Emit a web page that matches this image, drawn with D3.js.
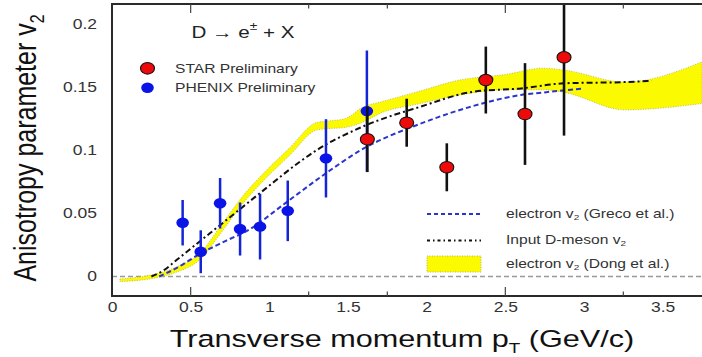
<!DOCTYPE html>
<html>
<head>
<meta charset="utf-8">
<script src="https://cdn.jsdelivr.net/npm/d3@7"></script>
<style>
  body { margin: 0; background: #fff; }
  svg { display: block; }
  text { font-family: "Liberation Sans", Arial, Helvetica, sans-serif; }
</style>
</head>
<body>
<svg id="chart" width="702" height="357"></svg>
<script>
// ---- Measured v2 of heavy-flavour electrons ----
const starPt  = [1.623, 1.873, 2.128, 2.376, 2.625, 2.873];
const starV2  = [0.1087, 0.1218, 0.0865, 0.1556, 0.1287, 0.1736];
const starErr = [0.026, 0.019, 0.019, 0.0265, 0.0403, 0.062];

const phenixPt  = [0.449, 0.564, 0.687, 0.814, 0.941, 1.117, 1.36, 1.62];
const phenixV2  = [0.0426, 0.0196, 0.058, 0.0376, 0.0395, 0.052, 0.0936, 0.131];
const phenixErr = [0.018, 0.017, 0.020, 0.021, 0.026, 0.024, 0.031, 0.048];

// ---- Model curves ----
const grecoPt = [0.30, 0.40, 0.56, 0.72, 0.87, 1.09, 1.34, 1.58, 1.96, 2.28, 2.60, 2.76, 3.00];
const grecoV2 = [0.000, 0.006, 0.018, 0.028, 0.037, 0.057, 0.080, 0.100, 0.121, 0.1345, 0.1438, 0.146, 0.149];

const dmesonPt = [0.25, 0.33, 0.41, 0.62, 0.80, 0.98, 1.195, 1.30, 1.58, 1.96, 2.30, 2.60, 2.87, 3.26, 3.43];
const dmesonV2 = [0.000, 0.005, 0.013, 0.034, 0.052, 0.070, 0.091, 0.100, 0.118, 0.1345, 0.1464, 0.149, 0.153, 0.154, 0.155];

const dongPt   = [0.05, 0.26, 0.40, 0.56, 0.69, 0.82, 0.98, 1.13, 1.30, 1.36, 1.48, 1.60, 1.70, 1.96, 2.21, 2.50, 2.74, 2.87, 3.26, 3.75];
const dongLow  = [-0.004, -0.0015, 0.003, 0.0135, 0.034, 0.056, 0.078, 0.096, 0.116, 0.117, 0.118, 0.1225, 0.129, 0.137, 0.1438, 0.148, 0.148, 0.146, 0.132, 0.137];
const dongHigh = [-0.002, 0.0015, 0.007, 0.0185, 0.040, 0.062, 0.084, 0.102, 0.122, 0.123, 0.125, 0.1345, 0.138, 0.147, 0.1556, 0.160, 0.165, 0.1636, 0.154, 0.170];

// ---- Axes ----
const xTickLabels = [0, 0.5, 1, 1.5, 2, 2.5, 3, 3.5];
const yTickLabels = [0, 0.05, 0.1, 0.15, 0.2];
const xMajorTicks = [0.5, 2.5];
const xMinorTicks = [1.25, 1.75, 3.25];

const STRETCH = 1.25;   // glyphs are drawn a little wider than tall
const svg = d3.select("#chart");

const plotLeft = 112, plotRight = 702, plotTop = 4, plotBottom = 296;
const x = d3.scaleLinear().domain([0, 3.75]).range([plotLeft, plotRight]);
const y = d3.scaleLinear().domain([0, 0.2]).range([276.5, 24]);

svg.append("defs").append("clipPath").attr("id", "plotClip")
  .append("rect").attr("x", plotLeft).attr("y", plotTop)
  .attr("width", plotRight - plotLeft).attr("height", plotBottom - plotTop);

const plot = svg.append("g").attr("clip-path", "url(#plotClip)");

// zero reference line
plot.append("line")
  .attr("x1", x(0)).attr("x2", x(3.75))
  .attr("y1", y(0)).attr("y2", y(0))
  .attr("stroke", "#9a9a9a").attr("stroke-width", 1.5).attr("stroke-dasharray", "5,3");

// Dong et al. band
const band = dongPt.map((p, i) => ({ p, lo: dongLow[i], hi: dongHigh[i] }));
plot.append("path").datum(band)
  .attr("fill", "#fcfa00")
  .attr("stroke", "#a89f60").attr("stroke-width", 0.7).attr("stroke-dasharray", "1,1.5")
  .attr("d", d3.area().x(d => x(d.p)).y0(d => y(d.lo)).y1(d => y(d.hi)).curve(d3.curveMonotoneX));

const lineGen = d3.line().x(d => x(d[0])).y(d => y(d[1])).curve(d3.curveMonotoneX);

// input D-meson v2
plot.append("path").datum(dmesonPt.map((p, i) => [p, dmesonV2[i]]))
  .attr("fill", "none").attr("stroke", "#111").attr("stroke-width", 2)
  .attr("stroke-dasharray", "6,3,2,3").attr("d", lineGen);

// Greco et al. electron v2
plot.append("path").datum(grecoPt.map((p, i) => [p, grecoV2[i]]))
  .attr("fill", "none").attr("stroke", "#2a35cc").attr("stroke-width", 2)
  .attr("stroke-dasharray", "5,3").attr("d", lineGen);

// PHENIX points
const phenix = phenixPt.map((p, i) => ({ p, v: phenixV2[i], e: phenixErr[i] }));
plot.selectAll(".phx-err").data(phenix).join("line")
  .attr("x1", d => x(d.p)).attr("x2", d => x(d.p))
  .attr("y1", d => y(d.v - d.e)).attr("y2", d => y(d.v + d.e))
  .attr("stroke", "#1424d8").attr("stroke-width", 2.5);
plot.selectAll(".phx-pt").data(phenix).join("ellipse")
  .attr("cx", d => x(d.p)).attr("cy", d => y(d.v))
  .attr("rx", 6.3).attr("ry", 5.2).attr("fill", "#0a14e6");

// STAR points
const star = starPt.map((p, i) => ({ p, v: starV2[i], e: starErr[i] }));
plot.selectAll(".star-err").data(star).join("line")
  .attr("x1", d => x(d.p)).attr("x2", d => x(d.p))
  .attr("y1", d => y(d.v - d.e)).attr("y2", d => y(d.v + d.e))
  .attr("stroke", "#111").attr("stroke-width", 2.6);
plot.selectAll(".star-pt").data(star).join("ellipse")
  .attr("cx", d => x(d.p)).attr("cy", d => y(d.v))
  .attr("rx", 7).attr("ry", 5.8).attr("fill", "#ee0a0a")
  .attr("stroke", "#111").attr("stroke-width", 1.1);

// frame
svg.append("path")
  .attr("d", `M${plotRight + 2},${plotTop} H${plotLeft} V${plotBottom} H${plotRight + 2}`)
  .attr("fill", "none").attr("stroke", "#2a2a2a").attr("stroke-width", 2);

// tick marks (top and bottom)
const tickData = xMajorTicks.map(v => ({ v, len: 9 })).concat(xMinorTicks.map(v => ({ v, len: 4.5 })));
svg.selectAll(".tb").data(tickData).join("line")
  .attr("x1", d => x(d.v)).attr("x2", d => x(d.v))
  .attr("y1", plotBottom).attr("y2", d => plotBottom - d.len)
  .attr("stroke", "#444").attr("stroke-width", 1.2);
svg.selectAll(".tt").data(tickData).join("line")
  .attr("x1", d => x(d.v)).attr("x2", d => x(d.v))
  .attr("y1", plotTop).attr("y2", d => plotTop + d.len)
  .attr("stroke", "#444").attr("stroke-width", 1.2);

// axis tick labels
const xAxis = svg.append("g").attr("transform", `translate(0,${plotBottom})`)
  .call(d3.axisBottom(x).tickValues(xTickLabels).tickSize(0).tickPadding(6.5).tickFormat(d => String(d)));
xAxis.select(".domain").remove();
xAxis.selectAll("text")
  .attr("font-size", 14).attr("fill", "#333")
  .attr("font-family", "\"Liberation Sans\", Arial, sans-serif")
  .attr("transform", `scale(${STRETCH},1)`);

const yAxis = svg.append("g").attr("transform", `translate(${plotLeft},0)`)
  .call(d3.axisLeft(y).tickValues(yTickLabels).tickSize(0).tickPadding(15).tickFormat(d => String(d)));
yAxis.select(".domain").remove();
yAxis.selectAll("text")
  .attr("font-size", 14).attr("fill", "#333")
  .attr("font-family", "\"Liberation Sans\", Arial, sans-serif")
  .attr("x", -15 / STRETCH)
  .attr("transform", `scale(${STRETCH},1)`);

// helper for stretched text
function label(px, py, size, fill, anchor) {
  return svg.append("text")
    .attr("transform", `translate(${px},${py}) scale(${STRETCH},1)`)
    .attr("font-size", size).attr("fill", fill).attr("text-anchor", anchor || "start")
    .attr("dominant-baseline", "central");
}

// axis titles
const xt = svg.append("text")
  .attr("transform", `translate(402,347) scale(${STRETCH},1)`)
  .attr("font-size", 24.5).attr("fill", "#111").attr("text-anchor", "middle");
xt.append("tspan").text("Transverse momentum p");
xt.append("tspan").text("T").attr("font-size", 15).attr("dy", 6);
xt.append("tspan").text(" (GeV/c)").attr("dy", -6);

const yt = svg.append("text")
  .attr("transform", `translate(36,148) scale(${STRETCH},1) rotate(-90)`)
  .attr("font-size", 25).attr("fill", "#111").attr("text-anchor", "middle");
yt.append("tspan").text("Anisotropy parameter v");
yt.append("tspan").text("2").attr("font-size", 16).attr("dy", 6);

// process label
const tt = label(243, 32, 16.5, "#222", "middle");
tt.append("tspan").text("D \u2192 e");
tt.append("tspan").text("\u00b1").attr("font-size", 11).attr("dy", -6);
tt.append("tspan").text(" + X").attr("dy", 6);

// experiment legend
const expLegend = [
  { name: "STAR Preliminary", fill: "#ee0a0a", stroke: "#111" },
  { name: "PHENIX Preliminary", fill: "#0a14e6", stroke: "none" }
];
expLegend.forEach((d, i) => {
  const ly = 68.3 + i * 19.5;
  svg.append("ellipse").attr("cx", 147.5).attr("cy", ly)
    .attr("rx", i === 0 ? 7 : 6.3).attr("ry", i === 0 ? 5.8 : 5.2)
    .attr("fill", d.fill).attr("stroke", d.stroke).attr("stroke-width", 1.1);
  label(175, ly, 12.5, "#333").text(d.name);
});

// model legend
svg.append("line").attr("x1", 427).attr("x2", 481).attr("y1", 214).attr("y2", 214)
  .attr("stroke", "#2a35cc").attr("stroke-width", 2).attr("stroke-dasharray", "4,3");
const l1 = label(506, 214, 12.5, "#333");
l1.append("tspan").text("electron v");
l1.append("tspan").text("2").attr("font-size", 8).attr("dy", 3);
l1.append("tspan").text(" (Greco et al.)").attr("dy", -3);

svg.append("line").attr("x1", 427).attr("x2", 481).attr("y1", 240.5).attr("y2", 240.5)
  .attr("stroke", "#111").attr("stroke-width", 1.8).attr("stroke-dasharray", "3,3,1.5,3");
const l2 = label(506, 240, 12.5, "#333");
l2.append("tspan").text("Input D-meson v");
l2.append("tspan").text("2").attr("font-size", 8).attr("dy", 3);

svg.append("rect").attr("x", 427).attr("y", 256).attr("width", 54).attr("height", 16)
  .attr("fill", "#fcfa00").attr("stroke", "#b0a060").attr("stroke-width", 0.8).attr("stroke-dasharray", "1,1.5");
const l3 = label(506, 264, 12.5, "#333");
l3.append("tspan").text("electron v");
l3.append("tspan").text("2").attr("font-size", 8).attr("dy", 3);
l3.append("tspan").text(" (Dong et al.)").attr("dy", -3);
</script>
</body>
</html>
